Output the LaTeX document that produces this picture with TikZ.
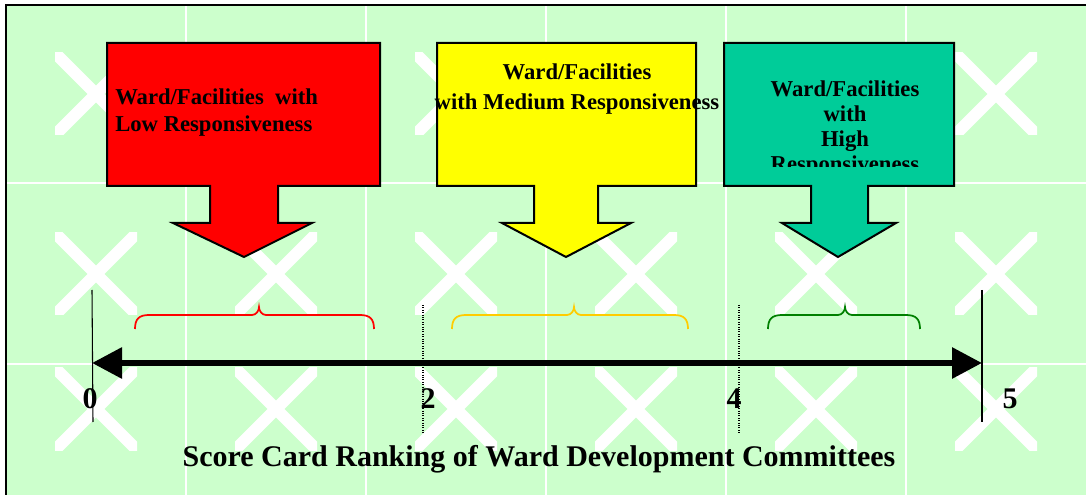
\documentclass[tikz,border=0pt]{standalone}
\usepackage{fontspec}
\setmainfont{Liberation Serif}
\usetikzlibrary{arrows.meta}

\definecolor{tilegreen}{HTML}{CCFFCC}
\definecolor{lowred}{HTML}{FF0000}
\definecolor{medyellow}{HTML}{FFFF00}
\definecolor{highgreen}{HTML}{00CC99}
\definecolor{bracegold}{HTML}{FFCC00}
\definecolor{bracegreen}{HTML}{008000}

% curly brace over a score band: colour, left end, peak, right end
\newcommand{\rankbrace}[4]{%
  \draw[#1, line width=1.3pt] (#2,329) .. controls (#2,319) and (#2+4,315) .. (#2+14,315)
    -- (#3-7,315) .. controls (#3-3,315) and (#3,311) .. (#3,307)
    .. controls (#3,311) and (#3+3,315) .. (#3+7,315)
    -- (#4-14,315) .. controls (#4-4,315) and (#4,319) .. (#4,329);}

\begin{document}
\begin{tikzpicture}[x=0.75pt, y=-0.75pt,
    callout/.style={draw=black, line width=1.5pt, line join=miter},
    boxtext/.style={font=\bfseries\fontsize{17}{20.25}\selectfont, inner sep=0pt},
    numlabel/.style={font=\bfseries\fontsize{22.5}{27}\selectfont, inner sep=0pt},
    axis/.style={line width=4.5pt, {Triangle[length=22.5pt,width=22.5pt]}-{Triangle[length=22.5pt,width=22.5pt]}},
    tick/.style={line width=0.8pt},
    dottick/.style={line width=0.8pt, densely dotted},
    tilecross/.style={white, line width=9pt}
]
\useasboundingbox (0,0) rectangle (1086,495);
\fill[white] (0,0) rectangle (1086,495);

% background tiles
\fill[tilegreen] (6,5) rectangle (1086,495);
\foreach \gx in {186,366,546,726,906}
  \draw[white, line width=1.5pt] (\gx,5) -- (\gx,495);
\foreach \gy in {183,364}
  \draw[white, line width=1.5pt] (6,\gy) -- (1086,\gy);
\foreach \cx in {96,276,...,996}
  \foreach \cy in {94,274,409} {
    \begin{scope}
      \clip (\cx-41,\cy-41) rectangle (\cx+41,\cy+41);
      \draw[tilecross] (\cx-50,\cy-50) -- (\cx+50,\cy+50) (\cx-50,\cy+50) -- (\cx+50,\cy-50);
    \end{scope}
  }
\draw[line width=1.5pt] (6,495) -- (6,5) -- (1086,5);

% callouts
\draw[callout, fill=lowred] (107,43) -- (380,43) -- (380,186) -- (278,186) -- (278,223) -- (312,223)
  -- (244,257) -- (173,223) -- (210,223) -- (210,186) -- (107,186) -- cycle;
\draw[callout, fill=medyellow] (437,43) -- (696,43) -- (696,186) -- (598,186) -- (598,223) -- (631,223)
  -- (566,257) -- (502,223) -- (534,223) -- (534,186) -- (437,186) -- cycle;
\draw[callout, fill=highgreen] (724,43) -- (954,43) -- (954,186) -- (868,186) -- (868,223) -- (896,223)
  -- (838,257) -- (782,223) -- (811,223) -- (811,186) -- (724,186) -- cycle;

\node[boxtext, anchor=base west, align=left] (lowtxt) at (115,132) {Ward/Facilities\ \ with\\Low Responsiveness};
\node[boxtext, anchor=base, align=center, font=\bfseries\fontsize{17}{22.5}\selectfont] (medtxt) at (577,110) {Ward/Facilities\\with Medium Responsiveness};
\begin{scope}
  \clip (724,43) rectangle (954,167);
  \node[boxtext, anchor=base, align=center, font=\bfseries\fontsize{17}{18.75}\selectfont] (hightxt) at (845,172) {Ward/Facilities\\with\\High\\Responsiveness};
\end{scope}

% braces
\rankbrace{lowred}{135}{259}{374}
\rankbrace{bracegold}{452}{574}{688}
\rankbrace{bracegreen}{768}{845}{920}

% scale
\coordinate (s0) at (92,363);
\coordinate (s5) at (982,363);
\draw[axis] (s0) -- (s5);
\draw[tick] (92,290) -- (93,422);
\draw[tick] (982,290) -- (982,422);
\draw[dottick] (423,305) -- (423,433);
\draw[dottick] (739,305) -- (739,433);

\node[numlabel, anchor=base] (n0) at (90,409) {0};
\node[numlabel, anchor=base] (n2) at (428,409) {2};
\node[numlabel, anchor=base] (n4) at (734,409) {4};
\node[numlabel, anchor=base] (n5) at (1010,409) {5};

\node[numlabel, anchor=base] (ranktitle) at (539,466) {Score Card Ranking of Ward Development Committees};
\end{tikzpicture}
\end{document}
